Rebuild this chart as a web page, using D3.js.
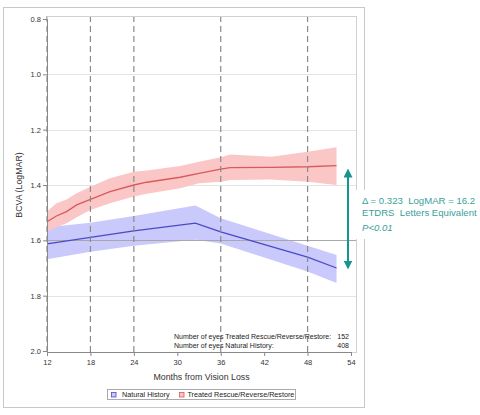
<!DOCTYPE html>
<html><head><meta charset="utf-8">
<script src="https://cdn.jsdelivr.net/npm/d3@7"></script>
<style>body{margin:0;background:#fff}svg{display:block;font-family:"Liberation Sans",Arial,sans-serif}</style>
</head><body>
<svg id="c" width="480" height="415"></svg>
<script>
// ---- data ----
const treatedMonths = [12, 13.3, 14.7, 16.1, 18, 20.7, 24, 25.8, 30.4, 33, 36, 37.3, 43, 48, 52];
const treatedMean   = [1.533, 1.512, 1.496, 1.472, 1.452, 1.424, 1.400, 1.390, 1.372, 1.358, 1.343, 1.337, 1.336, 1.334, 1.330];
const treatedLower  = [1.496, 1.466, 1.452, 1.430, 1.406, 1.376, 1.352, 1.348, 1.331, 1.316, 1.300, 1.290, 1.298, 1.280, 1.264];
const treatedUpper  = [1.569, 1.553, 1.538, 1.517, 1.490, 1.466, 1.442, 1.432, 1.412, 1.394, 1.388, 1.382, 1.380, 1.388, 1.400];
const naturalMonths = [12, 18, 24, 32.5, 36, 48, 52];
const naturalMean   = [1.613, 1.589, 1.566, 1.538, 1.569, 1.661, 1.700];
const naturalLower  = [1.553, 1.536, 1.512, 1.474, 1.520, 1.620, 1.653];
const naturalUpper  = [1.668, 1.641, 1.620, 1.598, 1.611, 1.713, 1.754];
const xTicks = [12, 18, 24, 30, 36, 42, 48, 54];
const yTicks = [0.8, 1.0, 1.2, 1.4, 1.6, 1.8, 2.0];
const dashedMonths = [12, 18, 24, 36, 48];
const referenceValue = 1.6;
const legendLabels = ["Natural History", "Treated Rescue/Reverse/Restore"];
const eyeCountLabels = ["Number of eyes Treated Rescue/Reverse/Restore:", "Number of eyes Natural History:"];
const eyeCounts = ["152", "408"];
const annotationLines = ["\u0394 = 0.323  LogMAR = 16.2", "ETDRS  Letters Equivalent"];
const pLabel = "P<0.01";
const xTitle = "Months from Vision Loss";
const yTitle = "BCVA (LogMAR)";

// ---- drawing ----
const svg = d3.select("#c");
const x = d3.scaleLinear().domain([12, 54]).range([47, 351]);
const y = d3.scaleLinear().domain([0.8, 2.0]).range([19, 351]);
const L = 47, R = 356, T = 16, B = 352;

// outer frame
svg.append("rect").attr("x", 3.5).attr("y", 7.5).attr("width", 361).attr("height", 400)
  .attr("fill", "none").attr("stroke", "#c8c8c8").attr("stroke-width", 1);

// gridlines
svg.append("g").selectAll("line").data(yTicks.filter(v => v > 0.8 && v < 2.0 && v !== referenceValue)).join("line")
  .attr("x1", L).attr("x2", R).attr("y1", d => Math.round(y(d)) + 0.5).attr("y2", d => Math.round(y(d)) + 0.5)
  .attr("stroke", "#e4e4e4").attr("stroke-width", 1);

// bands
function band(months, lo, hi, fill) {
  const idx = d3.range(months.length);
  const area = d3.area().x(i => x(months[i])).y0(i => y(hi[i])).y1(i => y(lo[i]));
  svg.append("path").datum(idx).attr("d", area).attr("fill", fill);
}
band(naturalMonths, naturalLower, naturalUpper, "#c9c9fb");
band(treatedMonths, treatedLower, treatedUpper, "#fbc6c6");

// reference line
svg.append("line").attr("x1", L).attr("x2", R)
  .attr("y1", Math.round(y(referenceValue)) + 0.5).attr("y2", Math.round(y(referenceValue)) + 0.5)
  .attr("stroke", "#a8a8a8").attr("stroke-width", 1);

// mean lines
function meanLine(months, vals, color) {
  const idx = d3.range(months.length);
  const line = d3.line().x(i => x(months[i])).y(i => y(vals[i]));
  svg.append("path").datum(idx).attr("d", line).attr("fill", "none").attr("stroke", color).attr("stroke-width", 1.3);
}
meanLine(naturalMonths, naturalMean, "#4a4ac8");
meanLine(treatedMonths, treatedMean, "#d85a5a");

// dashed verticals
svg.append("g").selectAll("line").data(dashedMonths).join("line")
  .attr("x1", d => x(d)).attr("x2", d => x(d)).attr("y1", T).attr("y2", B)
  .attr("stroke", "#8a8a8a").attr("stroke-width", 1.2).attr("stroke-dasharray", "6,4");

// plot frame
svg.append("rect").attr("x", L + 0.5).attr("y", T + 0.5).attr("width", R - L).attr("height", B - T)
  .attr("fill", "none").attr("stroke", "#d0d0d0");

// axes
const yAxis = svg.append("g").attr("transform", `translate(${L},0)`)
  .call(d3.axisLeft(y).tickValues(yTicks).tickFormat(d3.format(".1f")).tickSize(4).tickPadding(2));
const xAxis = svg.append("g").attr("transform", `translate(0,${B})`)
  .call(d3.axisBottom(x).tickValues(xTicks).tickFormat(d3.format("d")).tickSize(4).tickPadding(4));
[yAxis, xAxis].forEach(a => {
  a.select(".domain").attr("stroke", "#888");
  a.selectAll(".tick line").attr("stroke", "#888");
  a.selectAll(".tick text").attr("fill", "#333").attr("font-size", 7.5).attr("font-family", "Liberation Sans, Arial, sans-serif");
});

// axis titles
svg.append("text").attr("x", (L + R) / 2 + 0).attr("y", 380).attr("text-anchor", "middle")
  .attr("font-size", 8.8).attr("fill", "#333").text(xTitle);
svg.append("text").attr("transform", "translate(22,185) rotate(-90)").attr("text-anchor", "middle")
  .attr("font-size", 8.8).attr("fill", "#333").text(yTitle);

// eye counts
eyeCountLabels.forEach((t, i) => {
  svg.append("text").attr("x", 174).attr("y", 338.5 + i * 9).attr("font-size", 7.0).attr("fill", "#222").text(t);
  svg.append("text").attr("x", 349).attr("y", 338.5 + i * 9).attr("text-anchor", "end").attr("font-size", 7.0).attr("fill", "#222").text(eyeCounts[i]);
});

// legend
svg.append("rect").attr("x", 107.5).attr("y", 389.5).attr("width", 188).attr("height", 10)
  .attr("fill", "#fff").attr("stroke", "#aaa");
const legendSw = [{fill: "#c9c9fb", stroke: "#4a4ac8", x: 111.5, tx: 122}, {fill: "#fbc6c6", stroke: "#d85a5a", x: 179.5, tx: 187.5}];
legendLabels.forEach((t, i) => {
  const s = legendSw[i];
  svg.append("rect").attr("x", s.x).attr("y", 392.5).attr("width", 4.5).attr("height", 4.5)
    .attr("fill", s.fill).attr("stroke", s.stroke).attr("stroke-width", 0.8);
  svg.append("text").attr("x", s.tx).attr("y", 397.3).attr("font-size", 7.2).attr("fill", "#222").text(t);
});

// annotation white box
svg.append("rect").attr("x", 352).attr("y", 190).attr("width", 128).attr("height", 49).attr("fill", "#fff");

// arrow
const teal = "#149590";
const defs = svg.append("defs");
defs.append("marker").attr("id", "ah").attr("viewBox", "0 0 10 10").attr("refX", 5).attr("refY", 5)
  .attr("markerWidth", 4.5).attr("markerHeight", 4.5).attr("orient", "auto-start-reverse")
  .append("path").attr("d", "M0,0 L10,5 L0,10 z").attr("fill", teal);
svg.append("line").attr("x1", 348).attr("x2", 348).attr("y1", 173).attr("y2", 265)
  .attr("stroke", teal).attr("stroke-width", 2)
  .attr("marker-start", "url(#ah)").attr("marker-end", "url(#ah)");

annotationLines.forEach((t, i) => {
  svg.append("text").attr("x", 362).attr("y", 204 + i * 11.5).attr("font-size", 9.6).attr("fill", "#3a9f9a")
    .attr("xml:space", "preserve").style("white-space", "pre").text(t);
});
svg.append("text").attr("x", 362).attr("y", 230.5).attr("font-size", 9.6).attr("font-style", "italic")
  .attr("fill", "#3a9f9a").text(pLabel);
</script>
</body></html>
